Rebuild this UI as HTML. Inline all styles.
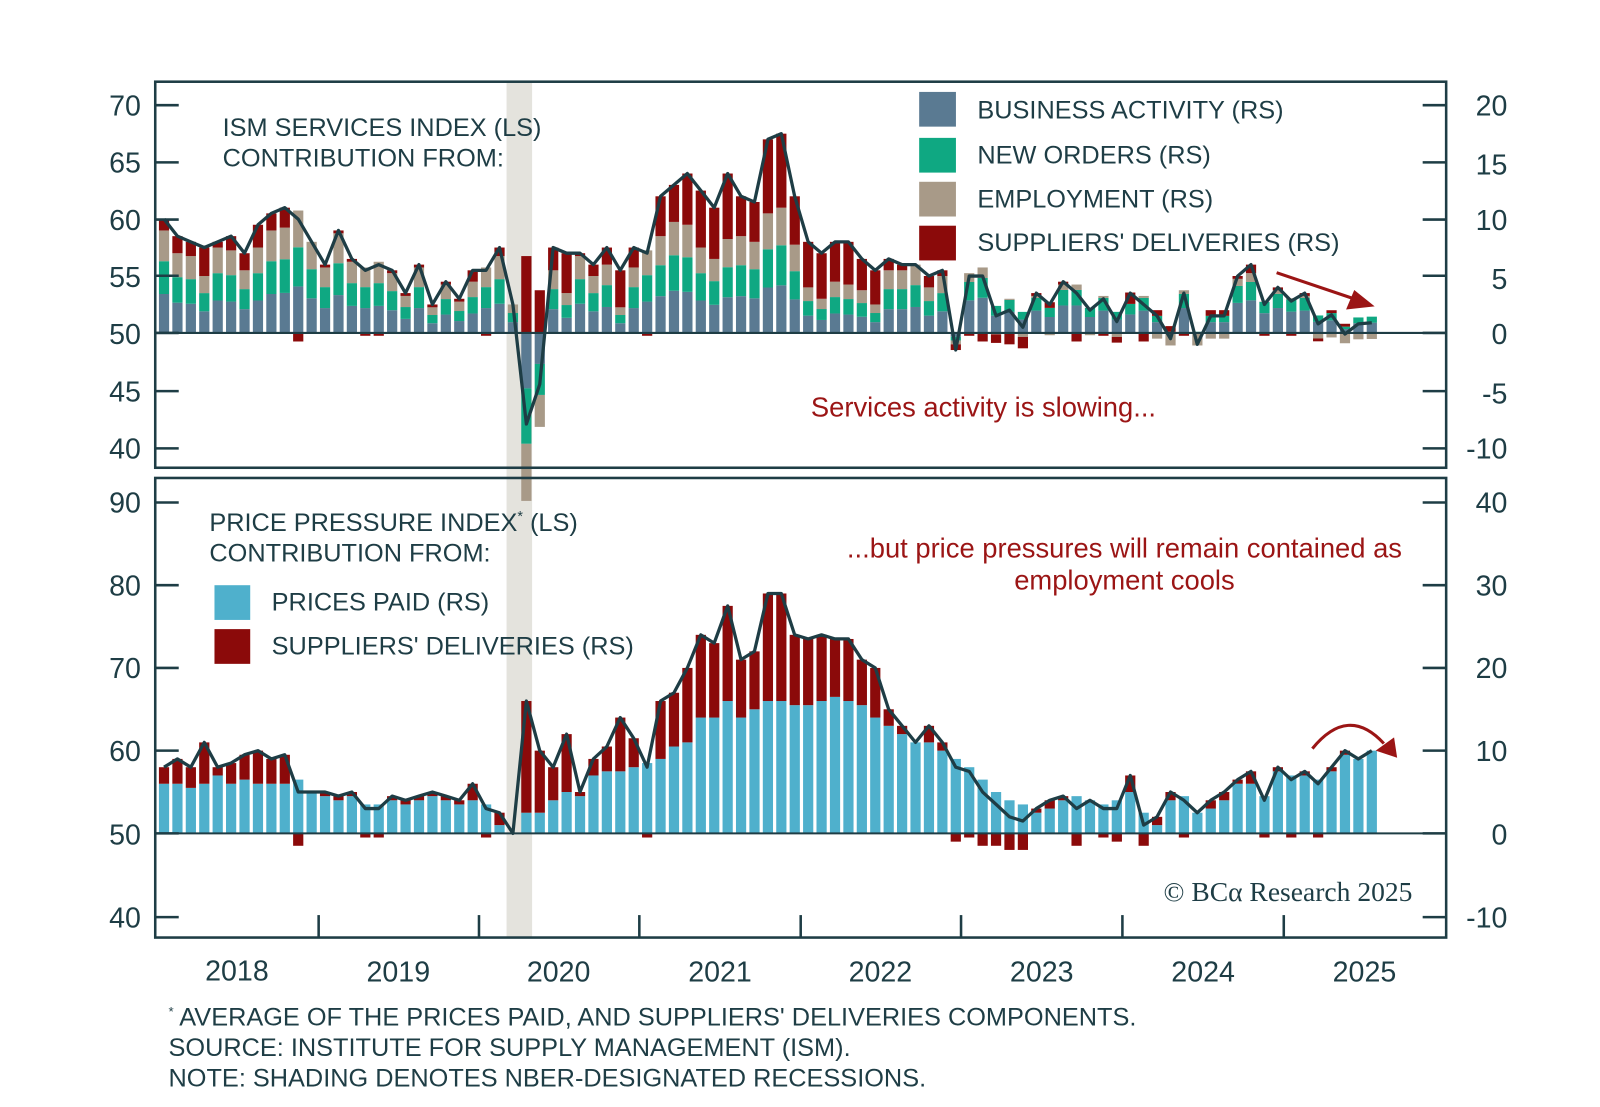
<!DOCTYPE html>
<html><head><meta charset="utf-8">
<style>
html,body{margin:0;padding:0;background:#fff;}
svg{display:block;font-family:"Liberation Sans",sans-serif;}
.t{fill:#1e3d45;font-size:24.8px;}
.ax{fill:#1e3d45;font-size:28px;font-weight:500;}
.red{fill:#9b1515;font-size:26.8px;}
</style></head><body>
<svg id="s" width="1600" height="1107" viewBox="0 0 1600 1107" xmlns="http://www.w3.org/2000/svg">
<rect x="0" y="0" width="1600" height="1107" fill="#fff"/>
<g transform="scale(1.0213)">
<rect x="496" y="80" width="25" height="838" fill="#e4e3dd"/>
<g id="bars"></g>
<g id="lines"></g>
<rect x="152" y="80" width="1264" height="378" fill="none" stroke="#1e3d45" stroke-width="2.5"/>
<rect x="152" y="468" width="1264" height="450" fill="none" stroke="#1e3d45" stroke-width="2.5"/>
<line x1="152" y1="326" x2="1416" y2="326" stroke="#1e3d45" stroke-width="2"/>
<line x1="152" y1="816" x2="1416" y2="816" stroke="#1e3d45" stroke-width="2"/>
<g id="ticks" stroke="#1e3d45" stroke-width="2.5"></g>
<g class="ax" text-anchor="end">
<text x="138" y="113">70</text><text x="138" y="169">65</text><text x="138" y="225">60</text>
<text x="138" y="281">55</text><text x="138" y="337">50</text><text x="138" y="393">45</text><text x="138" y="449">40</text>
<text x="138" y="502">90</text><text x="138" y="583">80</text><text x="138" y="664">70</text>
<text x="138" y="745">60</text><text x="138" y="827">50</text><text x="138" y="908">40</text>
</g>
<g class="ax" text-anchor="end">
<text x="1476" y="113">20</text><text x="1476" y="171">15</text><text x="1476" y="225">10</text>
<text x="1476" y="283">5</text><text x="1476" y="337">0</text><text x="1476" y="395">-5</text><text x="1476" y="449">-10</text>
<text x="1476" y="502">40</text><text x="1476" y="583">30</text><text x="1476" y="664">20</text>
<text x="1476" y="745">10</text><text x="1476" y="827">0</text><text x="1476" y="908">-10</text>
</g>
<g class="ax" text-anchor="middle">
<text x="232" y="960">2018</text><text x="390" y="961">2019</text><text x="547" y="961">2020</text>
<text x="705" y="961">2021</text><text x="862" y="961">2022</text><text x="1020" y="961">2023</text>
<text x="1178" y="961">2024</text><text x="1336" y="961">2025</text>
</g>
<text class="t" x="218" y="133">ISM SERVICES INDEX (LS)</text>
<text class="t" x="218" y="163">CONTRIBUTION FROM:</text>
<rect x="900" y="90" width="36" height="34" fill="#5a7a92"/>
<rect x="900" y="135" width="36" height="34" fill="#0fa882"/>
<rect x="900" y="178" width="36" height="34" fill="#a89a88"/>
<rect x="900" y="221" width="36" height="34" fill="#8b0a0a"/>
<text class="t" x="957" y="116">BUSINESS ACTIVITY (RS)</text>
<text class="t" x="957" y="160">NEW ORDERS (RS)</text>
<text class="t" x="957" y="203">EMPLOYMENT (RS)</text>
<text class="t" x="957" y="246">SUPPLIERS' DELIVERIES (RS)</text>
<text class="red" x="794" y="408">Services activity is slowing...</text>
<text class="t" x="205" y="520">PRICE PRESSURE INDEX<tspan font-size="14" dy="-10">*</tspan><tspan dy="10"> (LS)</tspan></text>
<text class="t" x="205" y="550">CONTRIBUTION FROM:</text>
<rect x="210" y="573" width="35" height="34" fill="#4fb0cc"/>
<rect x="210" y="616" width="35" height="34" fill="#8b0a0a"/>
<text class="t" x="266" y="598">PRICES PAID (RS)</text>
<text class="t" x="266" y="641">SUPPLIERS' DELIVERIES (RS)</text>
<text class="red" x="1101" y="546" text-anchor="middle">...but price pressures will remain contained as</text>
<text class="red" x="1101" y="577" text-anchor="middle">employment cools</text>
<text x="1383" y="882" text-anchor="end" font-family="Liberation Serif,serif" font-size="27" fill="#1e3d45">© BCα Research 2025</text>
<path d="M1250,267 L1330,294" stroke="#9b1515" stroke-width="3" fill="none"/>
<polygon points="1346,300 1318,303 1326,284" fill="#9b1515"/>
<path d="M1285,733 Q1320,690 1355,728" stroke="#9b1515" stroke-width="3" fill="none"/>
<polygon points="1368,742 1347,735 1365,722" fill="#9b1515"/>
<text class="t" x="165" y="1004" font-size="23.6"><tspan font-size="13" dy="-9">*</tspan><tspan dy="9"> AVERAGE OF THE PRICES PAID, AND SUPPLIERS' DELIVERIES COMPONENTS.</tspan></text>
<text class="t" x="165" y="1034" font-size="23.6">SOURCE: INSTITUTE FOR SUPPLY MANAGEMENT (ISM).</text>
<text class="t" x="165" y="1064" font-size="23.6">NOTE: SHADING DENOTES NBER-DESIGNATED RECESSIONS.</text>
</g>
</svg>
<script>
var NS="http://www.w3.org/2000/svg";
function el(p,t,a){var e=document.createElementNS(NS,t);for(var k in a)e.setAttribute(k,a[k]);p.appendChild(e);return e;}
var ism=[60,58.5,58,57.5,58,58.5,57,59.5,60.5,61,60,58,
56,59,56.5,55.5,56,55.5,53.5,56,52.5,54.5,53,55.5,
55.5,57.5,52.5,42,45.5,57.5,57,57,56,57.5,55.5,57.5,
57,62,63,64,62.5,61,64,62,61.5,67,67.5,62,
58,57,58,58,56.5,55.5,56.5,56,56,55,55.5,48.5,
55,55,51.5,52,50.5,53.5,52.5,54.5,53.5,52,53,51,
53.5,52.5,51.5,49.5,53.5,49,51.5,51.5,55,56,52.5,54,
52.8,53.5,50.8,51.6,49.9,50.8,50.9];
var L=[58,59,58,61,58,58.5,59.5,60,59,59.5,55,55,
55,54.5,55,53,53,54.5,54,54.5,55,54.5,54,56,
53,52.5,50,66,60,58,62,55,59,60.5,64,61.5,
58,66,67,70,74,73,77.5,71,72,79,79,74,
73.5,74,73.5,73.5,71,70,65,63,61,63,61,58,
57.5,55,53.5,52,51.5,53,54,54.5,53,54,53,53,
57,51,52,55,54,52.5,54,55,56.5,57.5,54,58,
56.5,57.5,56,58,60,59,60];
var B=[6,6,5.5,6,7,6,6.5,6,6,6,6.5,5,
4.5,4,4.5,3.5,3.5,4,3.5,4,4.5,4,3.5,4,
3.5,1,0,2.5,2.5,4,5,4.5,7,7.5,7.5,8,
8.5,9,10.5,11,14,14,16,14,15,16,16,15.5,
15.5,16,16.5,16,15.5,14,13,12,11,11,10,9,
8,6.5,5,4,3.5,2.5,3,4,4.5,4,3.5,4,
5,2.5,1,4,4.5,2.5,3,4,6,6,4.5,7.5,
7,7,6.5,7.5,9.5,9,10];
var bars=document.getElementById('bars'),lines=document.getElementById('lines');
var n=ism.length,st=13.14,x0=154;
var tp=[],bp=[];
for(var i=0;i<n;i++){
  var bx=x0+st*i+1.6,w=10,cx=x0+st*(i+0.5);
  var R=L[i]-50-B[i];
  var sd=R/2, d=ism[i]-50, rest=d-sd, ba,no,em;
  if(i>=60){ba=rest*0.45+0.5;no=rest*0.25+0.3;em=rest*0.3-0.8;}
  else if(rest<0){ba=rest*0.33;no=rest*0.33;em=rest*0.34;}
  else{ba=rest*0.38;no=rest*0.32;em=rest*0.30;}
  var pos=0,neg=0;
  [[ba,'#5a7a92'],[no,'#0fa882'],[em,'#a89a88'],[sd,'#8b0a0a']].forEach(function(c){
    var v=c[0];if(v>=0){el(bars,'rect',{x:bx,y:326-(pos+v)*11.15,width:w,height:v*11.15,fill:c[1]});pos+=v;}
    else{el(bars,'rect',{x:bx,y:326-neg*11.15,width:w,height:-v*11.15,fill:c[1]});neg+=v;}
  });
  tp.push(cx.toFixed(1)+','+(326-d*11.15).toFixed(1));
  pos=0;neg=0;
  [[B[i],'#4fb0cc'],[R,'#8b0a0a']].forEach(function(c){
    var v=c[0];if(v>=0){el(bars,'rect',{x:bx,y:816-(pos+v)*8.1,width:w,height:v*8.1,fill:c[1]});pos+=v;}
    else{el(bars,'rect',{x:bx,y:816-neg*8.1,width:w,height:-v*8.1,fill:c[1]});neg+=v;}
  });
  bp.push(cx.toFixed(1)+','+(816-(L[i]-50)*8.1).toFixed(1));
}
el(lines,'polyline',{points:tp.join(' '),fill:'none',stroke:'#1e3d45','stroke-width':3.2,'stroke-linejoin':'round'});
el(lines,'polyline',{points:bp.join(' '),fill:'none',stroke:'#1e3d45','stroke-width':3.2,'stroke-linejoin':'round'});
var tk=document.getElementById('ticks');
[103,159,215,270,326,383,439].forEach(function(y){el(tk,'line',{x1:152,y1:y,x2:175,y2:y});el(tk,'line',{x1:1393,y1:y,x2:1416,y2:y});});
[492,573,654,735,816,898].forEach(function(y){el(tk,'line',{x1:152,y1:y,x2:175,y2:y});el(tk,'line',{x1:1393,y1:y,x2:1416,y2:y});});
[312,469,626,784,941,1099,1257].forEach(function(x){el(tk,'line',{x1:x,y1:896,x2:x,y2:918});});
</script>
</body></html>
